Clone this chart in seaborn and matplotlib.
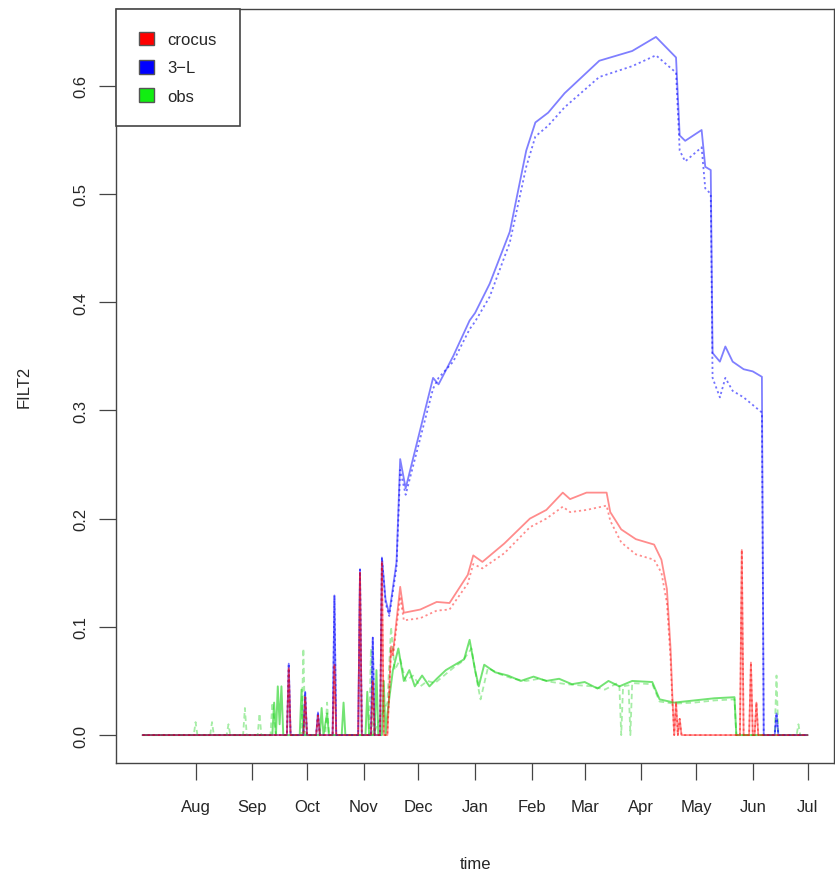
import numpy as np
import pandas as pd
import matplotlib
matplotlib.use("Agg")
import matplotlib.pyplot as plt
import matplotlib.dates as mdates
from matplotlib.patches import Patch
import seaborn as sns

# ---------------- data ----------------
blue_dates = ["2011-07-03", "2011-09-20", "2011-09-21", "2011-09-22", "2011-09-29", "2011-09-30", "2011-10-01",
              "2011-10-06", "2011-10-07", "2011-10-08", "2011-10-15", "2011-10-16", "2011-10-17",
              "2011-10-29", "2011-10-30", "2011-10-31", "2011-11-05", "2011-11-06", "2011-11-07",
              "2011-11-10", "2011-11-11", "2011-11-13", "2011-11-15", "2011-11-19", "2011-11-21", "2011-11-24",
              "2011-12-09", "2011-12-12", "2011-12-20", "2011-12-29", "2012-01-01", "2012-01-09", "2012-01-20",
              "2012-01-29", "2012-02-03", "2012-02-10", "2012-02-19", "2012-03-09", "2012-03-27", "2012-04-09",
              "2012-04-20", "2012-04-22", "2012-04-25", "2012-05-04", "2012-05-06", "2012-05-09", "2012-05-10",
              "2012-05-14", "2012-05-17", "2012-05-21", "2012-05-27", "2012-06-01", "2012-06-06", "2012-06-07",
              "2012-06-13", "2012-06-14", "2012-06-15", "2012-07-01"]
blue_solid = [0, 0, 0.066, 0, 0, 0.04, 0,
              0, 0.021, 0, 0, 0.129, 0,
              0, 0.153, 0, 0, 0.09, 0,
              0, 0.164, 0.125, 0.112, 0.16, 0.255, 0.228,
              0.33, 0.324, 0.35, 0.383, 0.39, 0.417, 0.465,
              0.54, 0.566, 0.575, 0.593, 0.623, 0.632, 0.645,
              0.626, 0.554, 0.549, 0.559, 0.525, 0.522, 0.353,
              0.345, 0.359, 0.345, 0.338, 0.336, 0.331, 0,
              0, 0.02, 0, 0]
blue_dotted = [0, 0, 0.066, 0, 0, 0.04, 0,
               0, 0.021, 0, 0, 0.129, 0,
               0, 0.153, 0, 0, 0.09, 0,
               0, 0.164, 0.122, 0.11, 0.155, 0.245, 0.222,
               0.32, 0.33, 0.345, 0.375, 0.382, 0.405, 0.455,
               0.525, 0.553, 0.563, 0.58, 0.608, 0.618, 0.628,
               0.612, 0.54, 0.53, 0.543, 0.505, 0.5, 0.33,
               0.312, 0.33, 0.318, 0.312, 0.305, 0.298, 0,
               0, 0.02, 0, 0]

red_dates = ["2011-07-03", "2011-09-20", "2011-09-21", "2011-09-22", "2011-09-29", "2011-09-30", "2011-10-01",
             "2011-10-06", "2011-10-07", "2011-10-08", "2011-10-15", "2011-10-16", "2011-10-17",
             "2011-10-29", "2011-10-30", "2011-10-31", "2011-11-05", "2011-11-06", "2011-11-07",
             "2011-11-10", "2011-11-11", "2011-11-12", "2011-11-14", "2011-11-16", "2011-11-17",
             "2011-11-21", "2011-11-23", "2011-12-02", "2011-12-11", "2011-12-18", "2011-12-28", "2011-12-31",
             "2012-01-05", "2012-01-17", "2012-01-31", "2012-02-09", "2012-02-18", "2012-02-22", "2012-03-02",
             "2012-03-13", "2012-03-15", "2012-03-21", "2012-03-29", "2012-04-08", "2012-04-12", "2012-04-15",
             "2012-04-17", "2012-04-18", "2012-04-19", "2012-04-20", "2012-04-21", "2012-04-22", "2012-04-23",
             "2012-05-25", "2012-05-26", "2012-05-27", "2012-05-30", "2012-05-31", "2012-06-01",
             "2012-06-02", "2012-06-03", "2012-06-04", "2012-07-01"]
red_solid = [0, 0, 0.062, 0, 0, 0.035, 0,
             0, 0.018, 0, 0, 0.065, 0,
             0, 0.15, 0, 0, 0.05, 0,
             0, 0.16, 0, 0, 0.082, 0.075,
             0.137, 0.113, 0.116, 0.123, 0.122, 0.148, 0.166,
             0.16, 0.177, 0.2, 0.208, 0.224, 0.218, 0.224,
             0.224, 0.206, 0.19, 0.181, 0.176, 0.162, 0.135,
             0.08, 0.036, 0, 0.03, 0, 0.015, 0,
             0, 0.171, 0, 0, 0.067, 0,
             0, 0.03, 0, 0]
red_dotted = [0, 0, 0.062, 0, 0, 0.035, 0,
              0, 0.018, 0, 0, 0.065, 0,
              0, 0.15, 0, 0, 0.05, 0,
              0, 0.16, 0, 0, 0.078, 0.072,
              0.128, 0.106, 0.108, 0.115, 0.116, 0.14, 0.158,
              0.154, 0.168, 0.192, 0.2, 0.211, 0.206, 0.208,
              0.212, 0.198, 0.178, 0.167, 0.162, 0.15, 0.122,
              0.07, 0.03, 0, 0.03, 0, 0.015, 0,
              0, 0.171, 0, 0, 0.067, 0,
              0, 0.03, 0, 0]

green_dates = ["2011-07-03", "2011-09-12", "2011-09-13", "2011-09-14", "2011-09-15", "2011-09-16", "2011-09-17",
               "2011-09-18", "2011-09-27", "2011-09-28", "2011-09-29", "2011-10-08", "2011-10-09", "2011-10-10",
               "2011-10-12", "2011-10-13", "2011-10-20", "2011-10-21", "2011-10-22", "2011-11-02", "2011-11-03",
               "2011-11-04", "2011-11-07", "2011-11-08", "2011-11-09", "2011-11-11", "2011-11-12", "2011-11-13",
               "2011-11-14", "2011-11-17", "2011-11-20", "2011-11-23", "2011-11-26", "2011-11-29", "2011-12-03",
               "2011-12-07", "2011-12-11", "2011-12-16", "2011-12-21", "2011-12-26", "2011-12-29", "2012-01-01",
               "2012-01-03", "2012-01-06", "2012-01-12", "2012-01-19", "2012-01-26", "2012-02-02", "2012-02-09",
               "2012-02-16", "2012-02-23", "2012-03-01", "2012-03-08", "2012-03-14", "2012-03-20", "2012-03-27",
               "2012-04-07", "2012-04-11", "2012-04-19", "2012-04-30", "2012-05-11", "2012-05-22", "2012-05-23",
               "2012-07-01"]
green_solid = [0, 0, 0.03, 0, 0.045, 0.01, 0.045,
               0, 0, 0.042, 0, 0, 0.025, 0,
               0.02, 0, 0, 0.03, 0, 0, 0.04,
               0, 0, 0.06, 0, 0, 0.05, 0,
               0.02, 0.06, 0.08, 0.05, 0.06, 0.045, 0.055,
               0.045, 0.052, 0.06, 0.065, 0.07, 0.088, 0.06,
               0.045, 0.065, 0.058, 0.055, 0.05, 0.054, 0.05,
               0.052, 0.047, 0.049, 0.043, 0.05, 0.045, 0.05,
               0.049, 0.033, 0.03, 0.032, 0.034, 0.035, 0,
               0]

green_dash_dates = ["2011-07-03", "2011-07-31", "2011-08-01", "2011-08-02", "2011-08-09", "2011-08-10", "2011-08-11",
                    "2011-08-18", "2011-08-19", "2011-08-20", "2011-08-27", "2011-08-28", "2011-08-29",
                    "2011-09-04", "2011-09-05", "2011-09-06", "2011-09-11", "2011-09-12", "2011-09-14",
                    "2011-09-28", "2011-09-29", "2011-09-30", "2011-10-11", "2011-10-12", "2011-10-13",
                    "2011-11-04", "2011-11-05", "2011-11-06", "2011-11-14", "2011-11-16", "2011-11-18",
                    "2011-11-21", "2011-11-24", "2011-11-28", "2011-12-02", "2011-12-06", "2011-12-10",
                    "2011-12-15", "2011-12-20", "2011-12-25", "2011-12-30", "2012-01-02", "2012-01-04",
                    "2012-01-08", "2012-01-15", "2012-01-22", "2012-01-29", "2012-02-05", "2012-02-12",
                    "2012-02-20", "2012-02-27", "2012-03-05", "2012-03-12", "2012-03-19", "2012-03-20",
                    "2012-03-21", "2012-03-22", "2012-03-25", "2012-03-26", "2012-03-27", "2012-04-07",
                    "2012-04-11", "2012-04-19", "2012-04-30", "2012-05-11", "2012-05-22", "2012-05-23",
                    "2012-06-13", "2012-06-14", "2012-06-15", "2012-06-25", "2012-06-26", "2012-06-27",
                    "2012-07-01"]
green_dashed = [0, 0, 0.012, 0, 0, 0.012, 0,
                0, 0.01, 0, 0, 0.025, 0,
                0, 0.02, 0, 0, 0.03, 0,
                0, 0.08, 0, 0, 0.03, 0,
                0, 0.08, 0, 0.03, 0.1, 0.06,
                0.07, 0.05, 0.055, 0.045, 0.05, 0.048,
                0.055, 0.062, 0.068, 0.08, 0.05, 0.033,
                0.062, 0.056, 0.052, 0.05, 0.052, 0.049,
                0.047, 0.046, 0.045, 0.042, 0.048, 0.045,
                0, 0.045, 0.046, 0, 0.048, 0.047,
                0.031, 0.029, 0.03, 0.032, 0.033, 0,
                0, 0.055, 0, 0, 0.01, 0,
                0]

series_labels = ["crocus", "3\u2212L", "obs"]
y_ticks = [0.0, 0.1, 0.2, 0.3, 0.4, 0.5, 0.6]
month_ticks = ["2011-08-01", "2011-09-01", "2011-10-01", "2011-11-01", "2011-12-01", "2012-01-01",
               "2012-02-01", "2012-03-01", "2012-04-01", "2012-05-01", "2012-06-01", "2012-07-01"]
month_labels = ["Aug", "Sep", "Oct", "Nov", "Dec", "Jan", "Feb", "Mar", "Apr", "May", "Jun", "Jul"]

# ---------------- plot ----------------
sns.set_style("ticks")
plt.rcParams["font.family"] = ["Liberation Sans", "DejaVu Sans"]

fig = plt.figure(figsize=(8.35, 8.78), dpi=100)
ax = fig.add_axes([116 / 835, 1 - 764 / 878, (835 - 116) / 835 - 0.001, (764 - 10) / 878])

RED = "#ff0000"
BLUE = "#0000ff"
GREEN = "#00cc00"

def draw(dates, vals, color, ls, alpha, lw):
    d = pd.DataFrame({"t": pd.to_datetime(dates), "v": vals})
    sns.lineplot(data=d, x="t", y="v", ax=ax, color=color, linestyle=ls, alpha=alpha,
                 linewidth=lw, estimator=None, sort=False, legend=False)

draw(green_dash_dates, green_dashed, GREEN, (0, (3, 2)), 0.35, 1.3)
draw(green_dates, green_solid, GREEN, "-", 0.55, 1.4)
draw(blue_dates, blue_dotted, BLUE, (0, (1.2, 1.6)), 0.55, 1.3)
draw(blue_dates, blue_solid, BLUE, "-", 0.5, 1.3)
draw(red_dates, red_dotted, RED, (0, (1.2, 1.6)), 0.45, 1.3)
draw(red_dates, red_solid, RED, "-", 0.45, 1.3)

# R-style axis limits (4% extension)
t0 = pd.Timestamp(blue_dates[0])
t1 = pd.Timestamp(blue_dates[-1])
span = t1 - t0
ax.set_xlim(t0 - span * 0.04, t1 + span * 0.04)
ymax = max(max(blue_solid), max(red_solid), max(green_solid))
ax.set_ylim(-0.04 * ymax, ymax * 1.04)

ax.set_xticks(pd.to_datetime(month_ticks))
ax.set_xticklabels(month_labels, fontsize=12)
ax.set_yticks(y_ticks)
ax.set_yticklabels([f"{v:.1f}" for v in y_ticks], fontsize=12, rotation=90, va="center")
ax.tick_params(axis="both", direction="out", length=12, width=0.9, color="#444444")
ax.tick_params(axis="x", pad=14)
ax.tick_params(axis="y", pad=8)
for s in ax.spines.values():
    s.set_visible(True)
    s.set_color("#444444")
    s.set_linewidth(1.0)

ax.set_xlabel("time", fontsize=12, labelpad=30)
ax.set_ylabel("FILT2", fontsize=12, labelpad=30)

handles = [Patch(facecolor=RED, edgecolor="#555555"),
           Patch(facecolor=BLUE, edgecolor="#555555"),
           Patch(facecolor="#11ee11", edgecolor="#555555")]
leg = ax.legend(handles, series_labels, loc="upper left", bbox_to_anchor=(0, 1), borderaxespad=0,
                fontsize=12, handlelength=0.9, handleheight=0.9, handletextpad=0.85,
                labelspacing=0.75, borderpad=1.35, fancybox=False, framealpha=1,
                edgecolor="#444444")
leg.get_frame().set_linewidth(1.2)

fig.savefig("out.png", dpi=100)
